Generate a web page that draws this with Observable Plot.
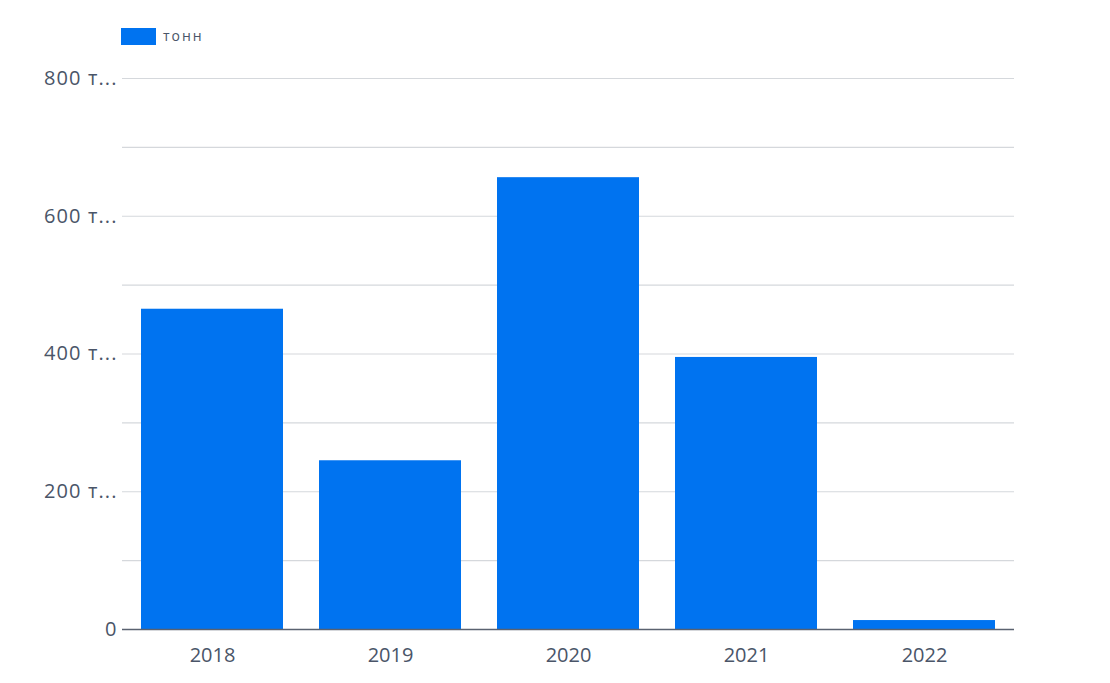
<!DOCTYPE html>
<html>
<head>
<meta charset="utf-8">
<script src="https://cdn.jsdelivr.net/npm/d3@7"></script>
<script src="https://cdn.jsdelivr.net/npm/@observablehq/plot@0.6"></script>
<style>
  html, body { margin: 0; padding: 0; background: #fff; }
  body { width: 1110px; height: 683px; overflow: hidden; font-family: "Open Sans", "Noto Sans", sans-serif; }
  #legend { height: 60px; position: relative; }
  #legend .sw { position: absolute; left: 121px; top: 28px; width: 35px; height: 17px; background: #0073f0; }
  #legend .lb { position: absolute; left: 163px; top: 26px; font-size: 14px; letter-spacing: 2px; color: #4a5568; line-height: 20px; }
  #chart svg { display: block; }
  #chart svg g[aria-label="y-axis tick label"] { letter-spacing: 1.1px; }
</style>
</head>
<body>
<div id="legend"><div class="sw"></div><div class="lb">тонн</div></div>
<div id="chart"></div>
<script>
const seriesName = "тонн";
const years = ["2018", "2019", "2020", "2021", "2022"];
const tonnes = [465, 245, 656, 395, 13];
const yTicks = [0, 200, 400, 600, 800];
const yTickLabels = ["0", "200 т...", "400 т...", "600 т...", "800 т..."];
const gridValues = [100, 200, 300, 400, 500, 600, 700, 800];

const data = years.map((y, i) => ({year: y, value: tonnes[i]}));
const textColor = "#4a5568";

const chart = Plot.plot({
  width: 1110,
  height: 623,
  marginTop: 18,
  marginBottom: 54,
  marginLeft: 122,
  marginRight: 96,
  style: {fontFamily: "'Open Sans', 'Noto Sans', sans-serif", fontSize: "20px", color: textColor, background: "#fff"},
  x: {domain: years, paddingInner: 0.2, paddingOuter: 0.1, label: null},
  y: {domain: [0, 800], label: null},
  marks: [
    Plot.ruleY(gridValues, {stroke: "#d5d8dc", strokeWidth: 1.2}),
    Plot.barY(data, {x: "year", y: "value", fill: "#0073f0"}),
    Plot.ruleY([0], {stroke: "#5a6270", strokeWidth: 1.5}),
    Plot.axisY({ticks: yTicks, tickFormat: (d) => yTickLabels[yTicks.indexOf(d)], tickSize: 0, tickPadding: 5, fontSize: 20, fill: textColor}),
    Plot.axisX({tickSize: 0, tickPadding: 18, fontSize: 20, fill: textColor})
  ]
});
document.getElementById("chart").appendChild(chart);
</script>
</body>
</html>
